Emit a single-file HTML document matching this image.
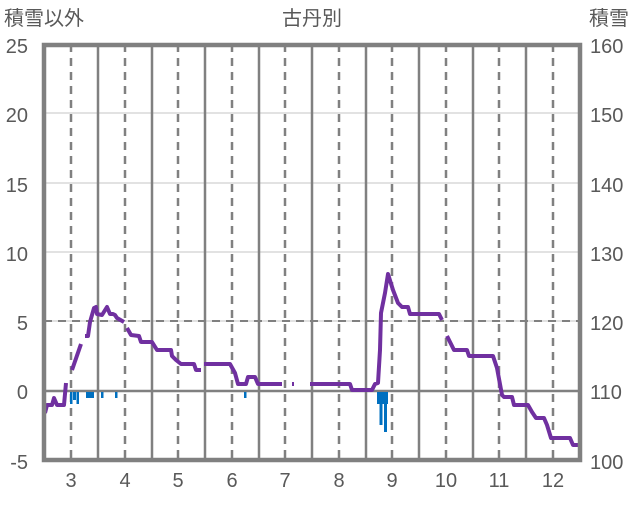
<!DOCTYPE html>
<html><head><meta charset="utf-8"><style>
body{margin:0;background:#fff}
text{font-family:"Liberation Sans","Noto Sans CJK JP",sans-serif;fill:#595959}
</style></head><body>
<svg width="636" height="501" xmlns="http://www.w3.org/2000/svg">
<g stroke="#d9d9d9" stroke-width="1.5">
<line x1="44" x2="580" y1="113" y2="113"/><line x1="44" x2="580" y1="183" y2="183"/><line x1="44" x2="580" y1="252" y2="252"/><line x1="44" x2="580" y1="321" y2="321"/>
</g>
<line x1="44" x2="580" y1="321" y2="321" stroke="#808080" stroke-width="2" stroke-dasharray="8,6"/>
<g stroke="#808080" stroke-width="2.5">
<line x1="98" x2="98" y1="44" y2="460"/><line x1="152" x2="152" y1="44" y2="460"/><line x1="205" x2="205" y1="44" y2="460"/><line x1="259" x2="259" y1="44" y2="460"/><line x1="312" x2="312" y1="44" y2="460"/><line x1="366" x2="366" y1="44" y2="460"/><line x1="419" x2="419" y1="44" y2="460"/><line x1="473" x2="473" y1="44" y2="460"/><line x1="526" x2="526" y1="44" y2="460"/>
</g>
<g stroke="#808080" stroke-width="2.5" stroke-dasharray="8,6">
<line x1="71" x2="71" y1="44" y2="460"/><line x1="125" x2="125" y1="44" y2="460"/><line x1="178" x2="178" y1="44" y2="460"/><line x1="232" x2="232" y1="44" y2="460"/><line x1="285" x2="285" y1="44" y2="460"/><line x1="339" x2="339" y1="44" y2="460"/><line x1="392" x2="392" y1="44" y2="460"/><line x1="446" x2="446" y1="44" y2="460"/><line x1="499" x2="499" y1="44" y2="460"/><line x1="553" x2="553" y1="44" y2="460"/>
</g>
<line x1="44" x2="580" y1="391" y2="391" stroke="#808080" stroke-width="2.5"/>
<g fill="#0070c0">
<rect x="70" y="392" width="2.5" height="12"/><rect x="73" y="392" width="3" height="8"/><rect x="76.5" y="392" width="2.5" height="12"/><rect x="86" y="392" width="8" height="6"/><rect x="101" y="392" width="2.5" height="6"/><rect x="115" y="392" width="2.5" height="6"/><rect x="244" y="392" width="2.5" height="6"/>
<rect x="377" y="392" width="11" height="12"/><rect x="379.5" y="392" width="3" height="33"/><rect x="384" y="392" width="3" height="40"/>
</g>
<g fill="none" stroke="#7030a0" stroke-width="4" stroke-linejoin="round">
<polyline points="45,413 47,405 52,405 54,398 57,405 64,405 66,383"/>
<polyline points="72,370 81,344"/>
<polyline points="85,336 88,336 90,322 94,308 96,307 97,314 102,315 107,307 110,314 113,314 115,315 117,318 124,322"/>
<polyline points="127,328 131,335 139,336 141,342 152,342 157,350 171,350 172,356 176,360 181,364 194,364 196,370 201,370"/>
<polyline points="204,364 230,364 235,373 238,384 246,384 248,377 255,377 258,384 282,384"/>
<polyline points="292,384 294,384"/>
<polyline points="310,384 350,384 352,390 372,390 375,384 378,383 380,350 381,313 385,293 388,274 393,290 398,303 402,307 408,307 410,314 439,314 442,320"/>
<polyline points="447,336 450,342 454,350 467,350 469,356 493,356 497,368 502,395 504,397 512,397 514,405 528,405 532,412 536,418 544,418 547,425 551,438 570,438 573,445 578,445"/>
</g>
<rect x="44" y="45" width="536" height="415" fill="none" stroke="#808080" stroke-width="4.5"/>
<g font-size="20" text-anchor="end">
<text x="28" y="53">25</text><text x="28" y="122">20</text><text x="28" y="192">15</text><text x="28" y="261">10</text><text x="28" y="330">5</text><text x="28" y="399">0</text><text x="28" y="469">-5</text>
</g>
<g font-size="20" text-anchor="start">
<text x="590" y="53">160</text><text x="590" y="122">150</text><text x="590" y="192">140</text><text x="590" y="261">130</text><text x="590" y="330">120</text><text x="590" y="399">110</text><text x="590" y="469">100</text>
</g>
<g font-size="20" text-anchor="middle">
<text x="71" y="487">3</text><text x="125" y="487">4</text><text x="178" y="487">5</text><text x="232" y="487">6</text><text x="285" y="487">7</text><text x="339" y="487">8</text><text x="392" y="487">9</text><text x="446" y="487">10</text><text x="499" y="487">11</text><text x="553" y="487">12</text>
</g>
<text x="4" y="25" font-size="20">積雪以外</text>
<text x="312" y="25" font-size="20" text-anchor="middle">古丹別</text>
<text x="589" y="25" font-size="20">積雪</text>
</svg>
</body></html>
